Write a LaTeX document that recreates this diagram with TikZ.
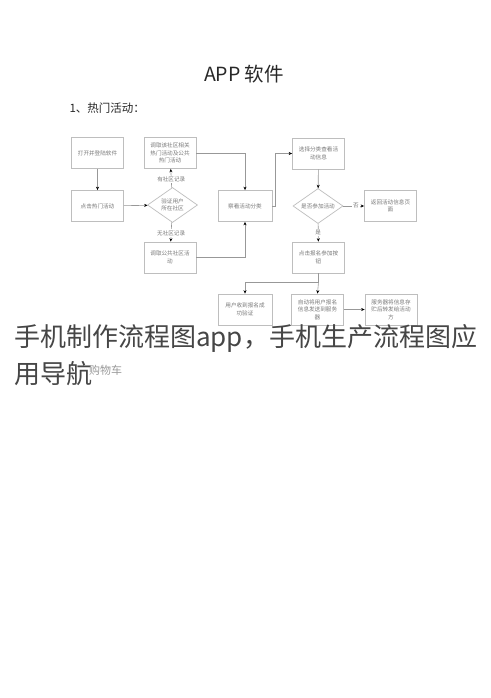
\documentclass[tikz,border=0pt]{standalone}
\usepackage{fontspec}
\setmainfont{Noto Sans CJK SC}
\usetikzlibrary{arrows.meta,shapes.geometric}
\definecolor{boxline}{RGB}{190,190,190}
\definecolor{boxtext}{RGB}{120,120,120}
\definecolor{bigtext}{RGB}{40,40,40}
\definecolor{ovtext}{RGB}{70,70,70}
\tikzset{
  fbox/.style={draw=boxline,line width=0.7pt,minimum width=52pt,minimum height=31pt,inner sep=1pt,
    align=center,font=\fontsize{5.6}{7.5}\selectfont,text=boxtext},
  fdia/.style={draw=boxline,line width=0.7pt,diamond,aspect=1.45,inner sep=0pt,minimum width=50pt,minimum height=35pt,
    align=center,font=\fontsize{5.6}{7.5}\selectfont,text=boxtext},
  flow/.style={draw=boxline!80!black,line width=0.6pt,-{Stealth[length=3.5pt,width=3pt,color=black]}},
  flab/.style={font=\fontsize{5.6}{7}\selectfont,text=boxtext,fill=white,inner sep=1pt}
}
\begin{document}
\begin{tikzpicture}[x=1pt,y=-1pt]
\useasboundingbox[fill=white] (0,0) rectangle (490,698);
\node[font=\fontsize{19.5}{22}\selectfont,text=bigtext] (title) at (244,74) {APP 软件};
\node[anchor=west,font=\fontsize{11.5}{13}\selectfont,text=bigtext] (sec) at (66,108) {1、热门活动：};

\node[fbox] (b1) at (97.5,153) {打开并登陆软件};
\node[fbox] (b2) at (97.5,206) {点击热门活动};
\node[fbox] (b3) at (170,153) {调取该社区相关\\热门活动及公共\\热门活动};
\node[fdia] (d1) at (172.5,205) {验证用户\\所在社区};
\node[fbox] (b4) at (170,257.5) {调取公共社区活\\动};
\node[fbox,minimum width=54pt] (b5) at (245,206) {察看活动分类};
\node[fbox] (b6) at (318.5,153.5) {选择分类查看活\\动信息};
\node[fdia] (d2) at (318,206) {是否参加活动};
\node[fbox] (b7) at (390.5,206) {返回活动信息页\\面};
\node[fbox] (b8) at (318.5,257.5) {点击报名参加按\\钮};
\node[fbox,minimum width=54pt] (b9) at (245,309.5) {用户收到报名成\\功验证};
\node[fbox] (b10) at (317.5,309.5) {自动将用户报名\\信息发送到服务\\器};
\node[fbox] (b11) at (391,309.5) {服务器将信息存\\贮后转发给活动\\方};

\draw[flow] (b1) -- (b2);
\draw[flow] (b2) -- (d1);
\draw[flow] (d1) -- node[flab,pos=0.45] (l1) {有社区记录} (b3);
\draw[flow] (d1) -- node[flab,pos=0.55] (l2) {无社区记录} (b4);
\draw[flow] (b3.east) -| (b5.north);
\draw[flow] (b4.east) -| (b5.south);
\coordinate (j1) at (275,206);
\draw[flow] (b5.east) -- (j1) |- (b6.west);
\draw[flow] (b6) -- (d2);
\draw[flow] (d2) -- node[flab,pos=0.6] (l3) {否} (b7);
\draw[flow] (d2) -- node[flab,pos=0.5] (l4) {是} (b8);
\coordinate (j2) at (318.5,282);
\draw[flow] (b8.south) -- (j2) -| (b9.north);
\draw[flow] (j2) -- (b10.north);
\draw[flow] (b10) -- (b11);

\node[anchor=west,font=\fontsize{26}{37}\selectfont,text=ovtext,align=left,inner sep=0pt] (ov) at (14,355)
  {手机制作流程图app，手机生产流程图应\\用导航};
\node[anchor=west,font=\fontsize{11}{12}\selectfont,text=black!40,inner sep=0pt] (cart) at (89,370) {购物车};
\end{tikzpicture}
\end{document}
